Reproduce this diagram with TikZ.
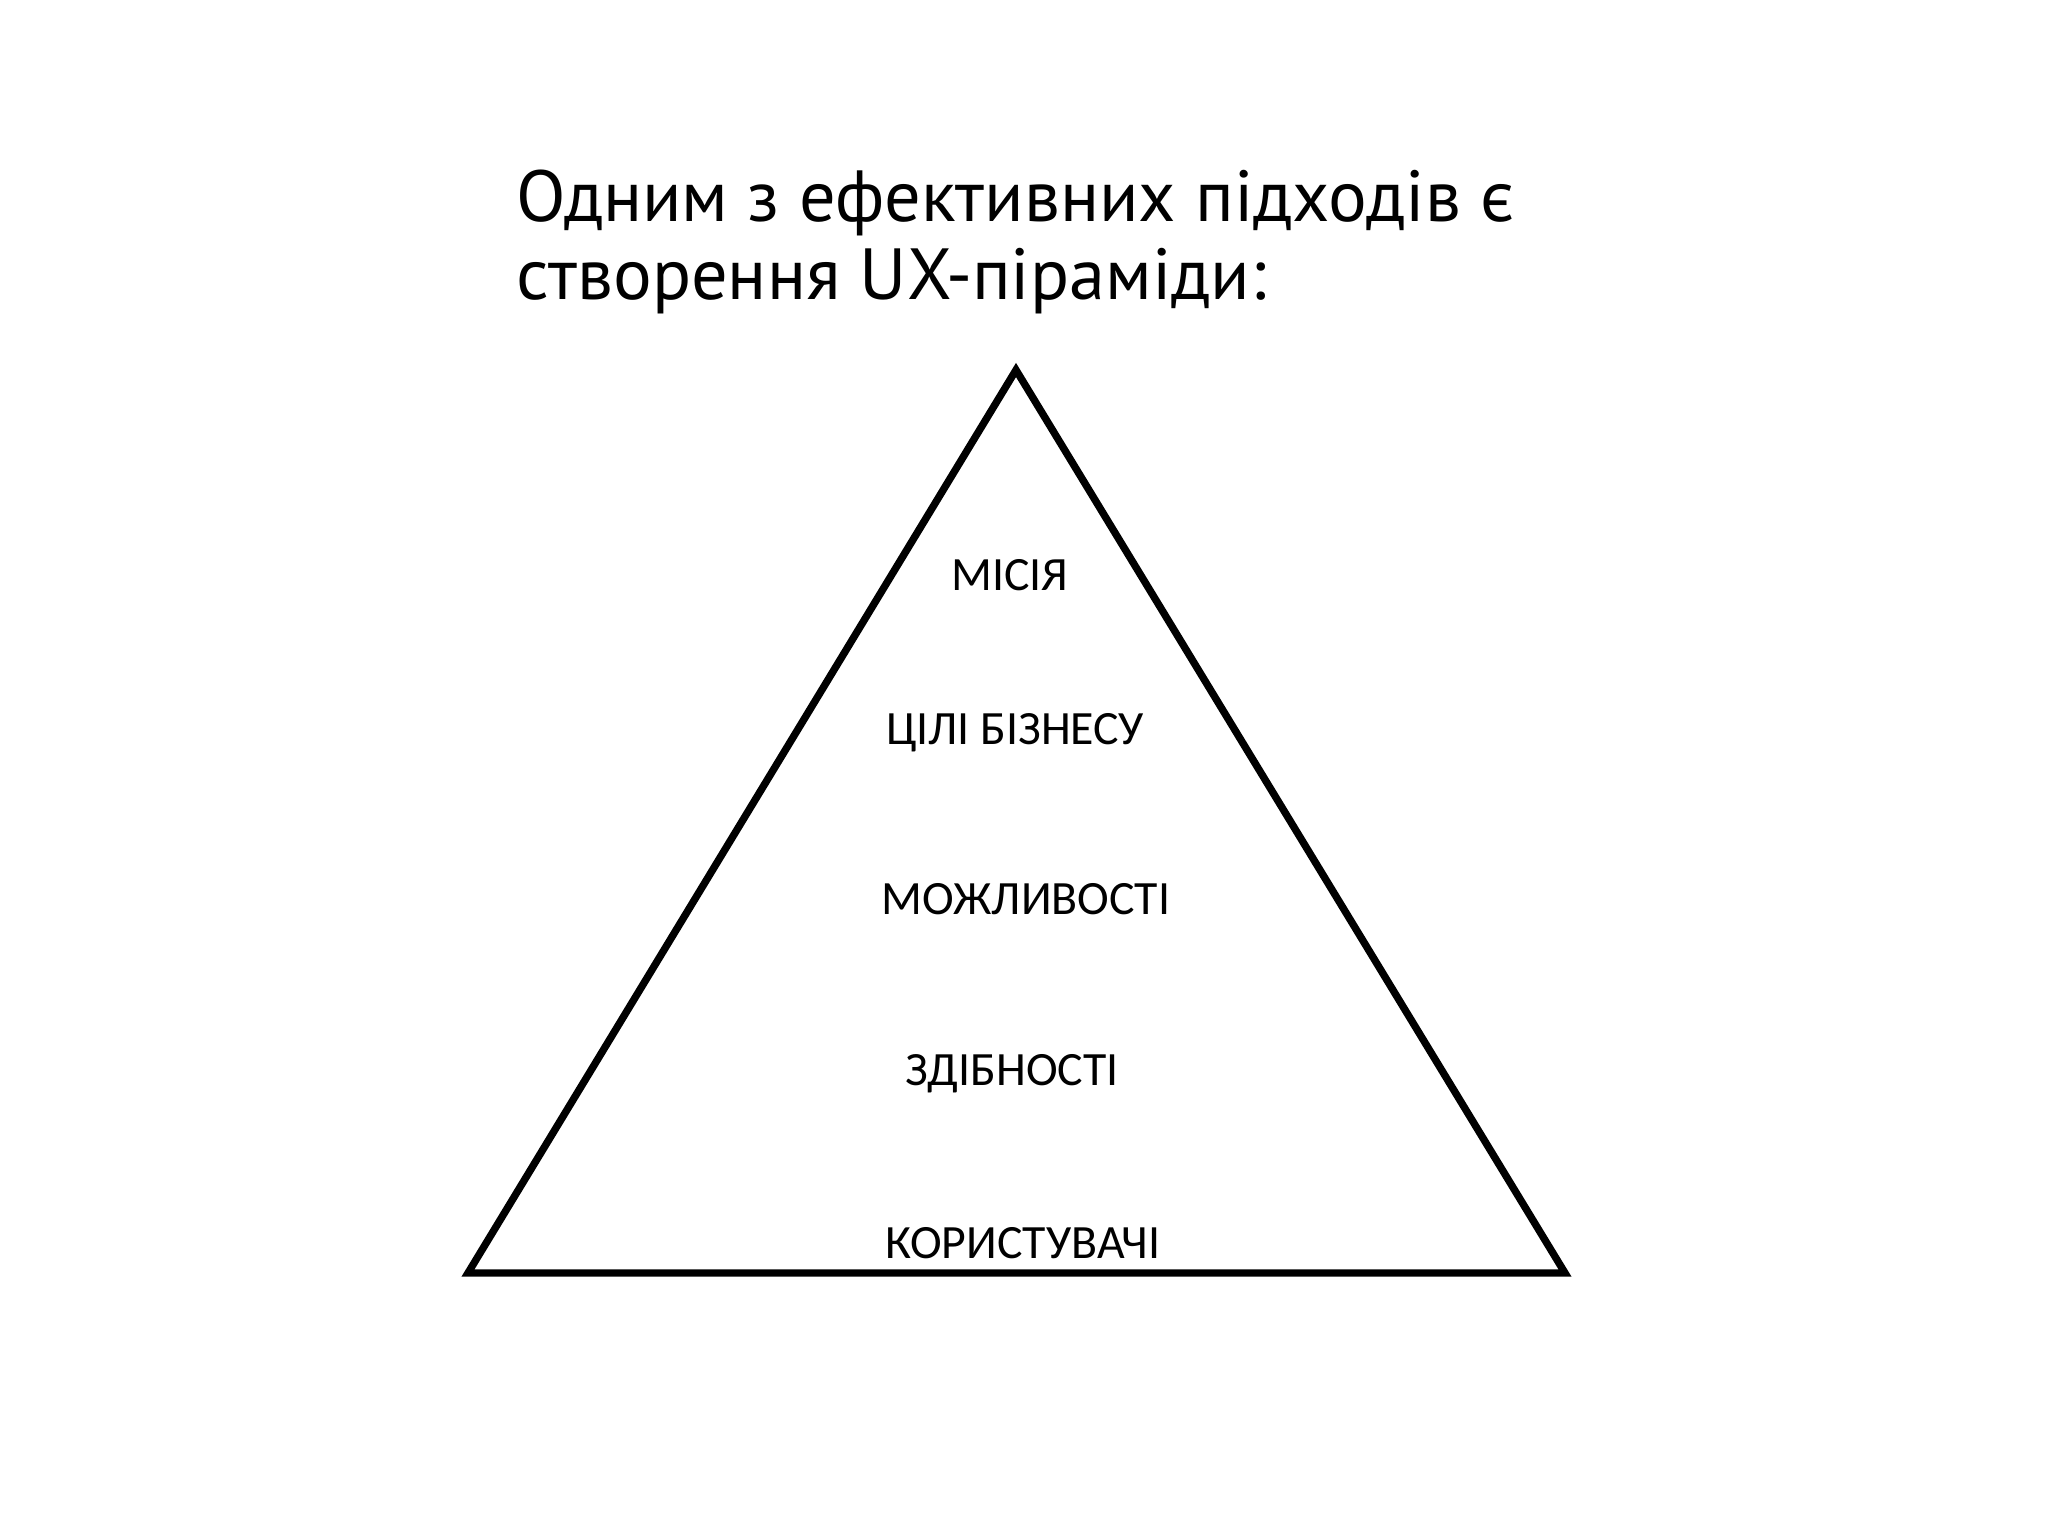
\documentclass[tikz,border=0pt]{standalone}
\usepackage{fontspec}
\setmainfont{PT Sans}
\newfontfamily\labelfont{Carlito}
\usetikzlibrary{positioning}

\begin{document}
\begin{tikzpicture}[
    titletext/.style={anchor=base west,inner sep=0pt,font=\fontsize{20.6}{24}\selectfont},
    layer/.style={inner sep=0pt,font=\labelfont\fontsize{13.6}{16}\selectfont}]
    \useasboundingbox (0,0) rectangle (20.48,15.36);

    % Title
    \node[titletext] (title1) at (5.16,13.14) {Одним з ефективних підходів є};
    \node[titletext] (title2) at (5.16,12.36) {створення UX-піраміди:};

    % Pyramid
    \coordinate (apex) at (10.16,11.66);
    \coordinate (left) at (4.68,2.63);
    \coordinate (right) at (15.65,2.63);
    \draw[line width=2.1pt] (apex) -- (left) -- (right) -- cycle;

    % Levels
    \node[layer] (mission) at (10.10,9.61) {МІСІЯ};
    \node[layer] (goals) at (10.15,8.03) {ЦІЛІ БІЗНЕСУ};
    \node[layer] (features) at (10.26,6.37) {МОЖЛИВОСТІ};
    \node[layer] (skills) at (10.12,4.62) {ЗДІБНОСТІ};
    \node[layer] (users) at (10.23,2.93) {КОРИСТУВАЧІ};
\end{tikzpicture}
\end{document}
